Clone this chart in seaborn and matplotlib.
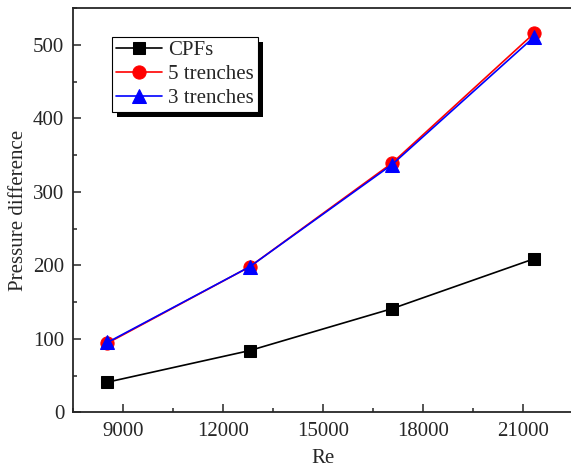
import matplotlib
matplotlib.use("Agg")
import matplotlib.pyplot as plt
import seaborn as sns
from matplotlib.patches import Rectangle
from matplotlib.ticker import MultipleLocator

# 数据
re_vals = [8540, 12810, 17080, 21350]
cpfs = [41, 84, 141, 209]
trench5 = [94, 198, 339, 516]
trench3 = [95, 198, 337, 511]

sns.set_style("ticks")
plt.rcParams['font.family'] = ['Liberation Serif', 'DejaVu Serif']
plt.rcParams['font.size'] = 15
plt.rcParams['mathtext.fontset'] = 'stix'

fig = plt.figure(figsize=(5.71, 4.71), dpi=100)
ax = fig.add_axes([0.1273, 0.1246, 0.8757, 0.8584])

sns.lineplot(x=re_vals, y=cpfs, color="black", marker='s', markersize=8,
             markeredgecolor='black', linewidth=1.2, label='CPFs', ax=ax)
sns.lineplot(x=re_vals, y=trench5, color="red", marker='o', markersize=9.5,
             markeredgecolor='red', linewidth=1.2, label='5 trenches', ax=ax)
sns.lineplot(x=re_vals, y=trench3, color="blue", marker='^', markersize=9.5,
             markeredgecolor='blue', linewidth=1.2, label='3 trenches', ax=ax)

ax.set_xlim(7500, 22500)
ax.set_ylim(0, 550)
ax.xaxis.set_major_locator(MultipleLocator(3000))
ax.xaxis.set_minor_locator(MultipleLocator(1500))
ax.yaxis.set_major_locator(MultipleLocator(100))
ax.yaxis.set_minor_locator(MultipleLocator(50))
ax.tick_params(which='both', direction='in', width=1.1, labelsize=15,
               top=False, right=False)
ax.tick_params(which='major', length=6)
ax.tick_params(which='minor', length=3)
ax.tick_params(axis='x', which='major', pad=7)
ax.tick_params(axis='y', which='major', pad=6)
for sp in ax.spines.values():
    sp.set_linewidth(1.3)
    sp.set_visible(True)
# 右边框在原图中被裁掉
ax.spines['right'].set_visible(False)

ax.set_xlabel('Re', fontsize=15, labelpad=6)
ax.set_ylabel('Pressure difference', fontsize=15, labelpad=4)

leg = ax.legend(loc='upper left', bbox_to_anchor=(0.078, 0.929), borderaxespad=0,
                fancybox=False, edgecolor='black', framealpha=1, fontsize=15,
                handlelength=2.2, handletextpad=0.3, labelspacing=0.2,
                borderpad=0.2)
leg.get_frame().set_linewidth(0.8)

# Origin 风格的黑色阴影
fig.canvas.draw()
bb = leg.get_window_extent()
shadow = Rectangle((bb.x0 + 5, bb.y0 - 5), bb.width, bb.height, transform=None,
                   facecolor='black', edgecolor='none', zorder=4.9, clip_on=False)
ax.add_artist(shadow)

plt.savefig('out.png', dpi=100)
